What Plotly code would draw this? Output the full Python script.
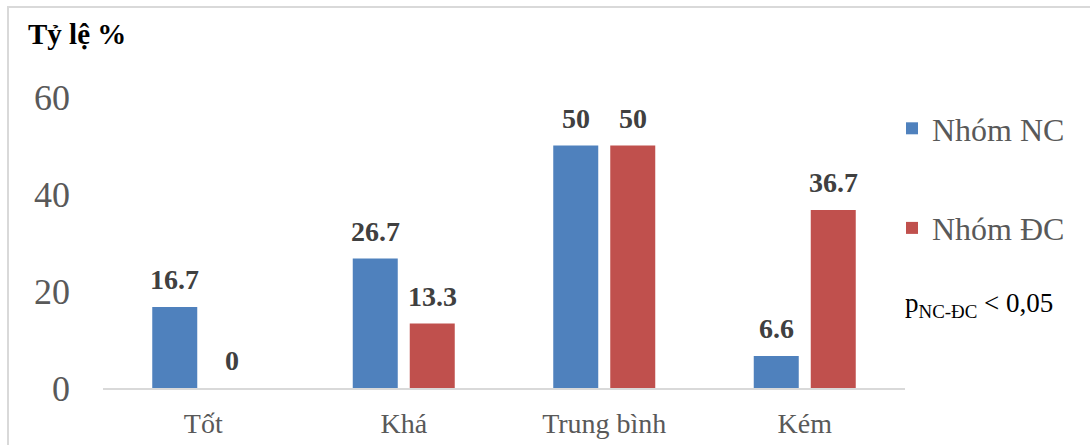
import plotly.graph_objects as go

# Chart data
categories = ["Tốt", "Khá", "Trung bình", "Kém"]
nhom_nc = [16.7, 26.7, 50, 6.6]
nhom_dc = [0, 13.3, 50, 36.7]
series_names = ["Nhóm NC", "Nhóm ĐC"]
y_ticks = [0, 20, 40, 60]

FONT = "Liberation Serif"
BLUE = "#4F81BD"
RED = "#C0504D"
GRAY_TXT = "#595959"
LABEL_TXT = "#404040"

W, H = 1090, 445
ML, MR, MT, MB = 103, 185, 97, 57
PW = W - ML - MR
PH = H - MT - MB


def px_x(x):
    return (x - ML) / PW


def px_y(y):
    return (H - MB - y) / PH


fig = go.Figure()
for name, vals, col in [(series_names[0], nhom_nc, BLUE), (series_names[1], nhom_dc, RED)]:
    fig.add_trace(go.Bar(
        x=categories, y=vals, name=name, legendgroup=name,
        marker=dict(color=col, line=dict(width=0)),
    ))

# Value labels above each bar
annotations = []
for vals, shift in [(nhom_nc, -28.5), (nhom_dc, 28.5)]:
    for c, v in zip(categories, vals):
        annotations.append(dict(
            x=c, y=v, xref="x", yref="y", text=f"<b>{v:g}</b>",
            showarrow=False, xanchor="center", yanchor="bottom",
            xshift=shift, yshift=10,
            font=dict(family=FONT, size=28, color=LABEL_TXT),
        ))

# Axis title
annotations.append(dict(
    x=px_x(26), y=px_y(52), xref="paper", yref="paper",
    text="<b>Tỷ lệ %</b>", showarrow=False, xanchor="left", yanchor="bottom",
    font=dict(family=FONT, size=29, color="#000000"),
))

# Significance note
annotations.append(dict(
    x=px_x(903), y=px_y(305), xref="paper", yref="paper",
    text="p<sub>NC-ĐC</sub> &lt; 0,05", showarrow=False,
    xanchor="left", yanchor="middle",
    font=dict(family=FONT, size=27, color="#000000"),
))

# Outer frame
shapes = [dict(
    type="rect", xref="paper", yref="paper",
    x0=px_x(8), x1=px_x(1110), y0=px_y(470), y1=px_y(7),
    line=dict(color="#d9d9d9", width=2), fillcolor="rgba(0,0,0,0)", layer="below",
)]

fig.update_layout(
    width=W, height=H,
    margin=dict(l=ML, r=MR, t=MT, b=MB, pad=0, autoexpand=False),
    paper_bgcolor="white", plot_bgcolor="white",
    barmode="group", bargap=0.4314, bargroupgap=0.2105,
    font=dict(family=FONT, color=GRAY_TXT),
    showlegend=True,
    legend=dict(
        x=px_x(892), y=px_y(101), xanchor="left", yanchor="top",
        font=dict(family=FONT, size=32, color=GRAY_TXT),
        tracegroupgap=55, bgcolor="rgba(0,0,0,0)",
    ),
    annotations=annotations,
    shapes=shapes,
    xaxis=dict(
        automargin=False,
        showgrid=False, zeroline=False, showline=True,
        linecolor="#d9d9d9", linewidth=2,
        ticks="", tickfont=dict(family=FONT, size=28, color=GRAY_TXT),
        ticklabelstandoff=9,
    ),
    yaxis=dict(
        automargin=False,
        range=[0, 60], tickvals=y_ticks, showgrid=False, zeroline=False,
        showline=False, ticks="",
        tickfont=dict(family=FONT, size=36, color=GRAY_TXT),
        ticklabelstandoff=32,
    ),
)

fig.write_html("out.html")
